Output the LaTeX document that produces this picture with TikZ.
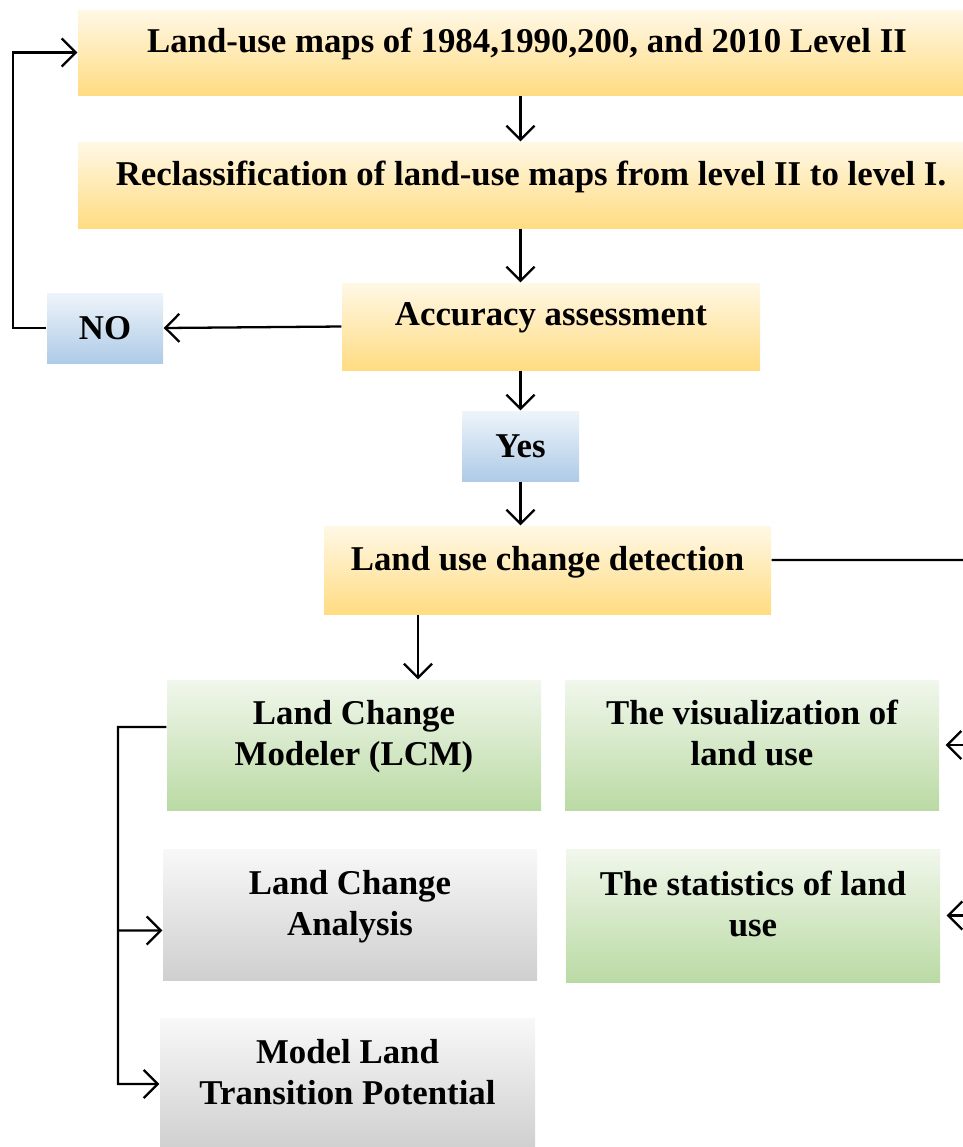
\documentclass[tikz,border=0pt]{standalone}
\usepackage{fontspec}
\setmainfont{Liberation Serif}
\usetikzlibrary{arrows.meta}

\definecolor{goldtop}{HTML}{FFF8E6}
\definecolor{goldbot}{HTML}{FFDC82}
\definecolor{bluetop}{HTML}{EEF4FA}
\definecolor{bluebot}{HTML}{AECBE7}
\definecolor{greentop}{HTML}{F1F7EC}
\definecolor{greenbot}{HTML}{BADAA4}
\definecolor{greytop}{HTML}{F8F8F8}
\definecolor{greybot}{HTML}{CFCFCF}

\begin{document}
\begin{tikzpicture}[x=0.1mm, y=-0.1mm, >={Straight Barb[length=1.4mm,width=2.8mm]},
  font=\bfseries\fontsize{9.9}{11.7}\selectfont,
  box/.style={rectangle, inner sep=0pt, align=center},
  goldbox/.style={box, top color=goldtop, bottom color=goldbot, text depth=2.4mm},
  bluebox/.style={box, top color=bluetop, bottom color=bluebot},
  greenbox/.style={box, top color=greentop, bottom color=greenbot, text depth=2.4mm},
  greybox/.style={box, top color=greytop, bottom color=greybot, text depth=2.4mm},
  link/.style={line width=0.65pt}]
\useasboundingbox (0,0) rectangle (963,1147);
\node (map) at (527,52.5) [goldbox, minimum width=89.8mm, minimum height=8.5mm] {Land-use maps of 1984,1990,200, and 2010 Level II};
\node (recl) at (531,185) [goldbox, minimum width=90.6mm, minimum height=8.6mm] {Reclassification of land-use maps from level II to level I.};
\node (acc) at (551,326.5) [goldbox, minimum width=41.8mm, minimum height=8.7mm] {Accuracy assessment};
\node (no) at (105,328) [bluebox, minimum width=11.6mm, minimum height=7mm] {NO};
\node (yes) at (520.5,446) [bluebox, minimum width=11.7mm, minimum height=7mm] {Yes};
\node (det) at (547.5,570) [goldbox, minimum width=44.7mm, minimum height=8.8mm] {Land use change detection};
\node (lcm) at (354,745) [greenbox, minimum width=37.4mm, minimum height=13mm] {Land Change\\Modeler (LCM)};
\node (vis) at (752,745) [greenbox, minimum width=37.4mm, minimum height=13mm] {The visualization of\\land use};
\node (lca) at (350,914.5) [greybox, minimum width=37.4mm, minimum height=13.1mm] {Land Change\\Analysis};
\node (stat) at (753,915.5) [greenbox, minimum width=37.4mm, minimum height=13.3mm] {The statistics of land\\use};
\node (mltp) at (347.5,1084) [greybox, minimum width=37.5mm, minimum height=13.2mm] {Model Land\\Transition Potential};
\coordinate (rail) at (990,560);
\coordinate (bus) at (118,727);
\draw[->, link] (map.south -| yes) -- (recl.north -| yes);
\draw[->, link] (recl.south -| yes) -- (acc.north -| yes);
\draw[->, link] (acc.south -| yes) -- (yes.north);
\draw[->, link] (yes.south) -- (det.north -| yes);
\draw[->, link] (acc.west) -- (no.east);
\draw[->, link] (no.west) -- ++(-33,0) |- (map.west);
\draw[->, link] ([xshift=-12.95mm]det.south) -- ([xshift=-12.95mm]det.south |- lcm.north);
\draw[link] ([yshift=1mm]det.east) -- (rail) -- (rail |- stat.east);
\draw[->, link, shorten >=0.6mm] (rail |- vis.east) -- (vis.east);
\draw[->, link, shorten >=0.6mm] (rail |- stat.east) -- (stat.east);
\draw[->, link] ([yshift=1.8mm]lcm.west) -- (bus) |- (mltp.west);
\draw[->, link] (bus |- lca.west) ++(0,16) -- ([yshift=-1.6mm]lca.west);
\end{tikzpicture}
\end{document}
